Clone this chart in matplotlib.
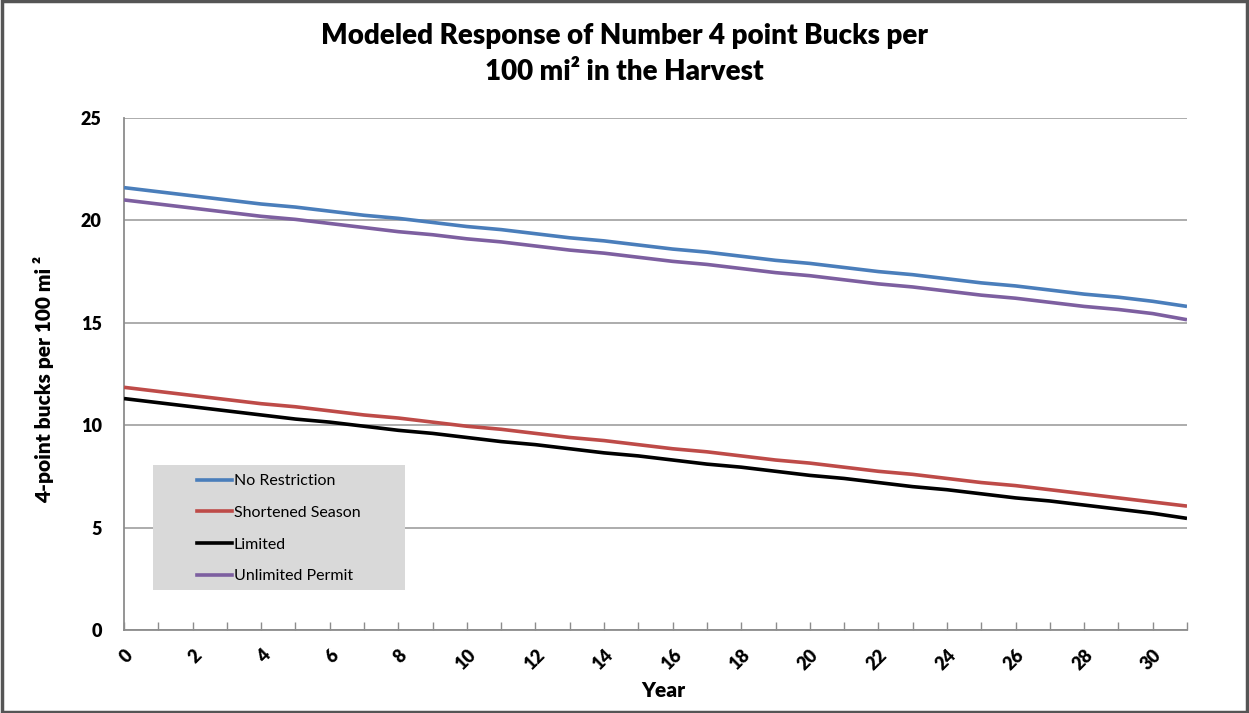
import matplotlib
matplotlib.use("Agg")
import matplotlib.pyplot as plt
from matplotlib.patches import Rectangle
from matplotlib.lines import Line2D

years = list(range(0, 32))
no_restriction = [21.6, 21.4, 21.2, 21.0, 20.8, 20.65, 20.45, 20.25, 20.1, 19.9, 19.7, 19.55,
                  19.35, 19.15, 19.0, 18.8, 18.6, 18.45, 18.25, 18.05, 17.9, 17.7, 17.5, 17.35,
                  17.15, 16.95, 16.8, 16.6, 16.4, 16.25, 16.05, 15.8]
shortened_season = [11.85, 11.65, 11.45, 11.25, 11.05, 10.9, 10.7, 10.5, 10.35, 10.15, 9.95, 9.8,
                    9.6, 9.4, 9.25, 9.05, 8.85, 8.7, 8.5, 8.3, 8.15, 7.95, 7.75, 7.6,
                    7.4, 7.2, 7.05, 6.85, 6.65, 6.45, 6.25, 6.05]
limited = [11.3, 11.1, 10.9, 10.7, 10.5, 10.3, 10.15, 9.95, 9.75, 9.6, 9.4, 9.2,
           9.05, 8.85, 8.65, 8.5, 8.3, 8.1, 7.95, 7.75, 7.55, 7.4, 7.2, 7.0,
           6.85, 6.65, 6.45, 6.3, 6.1, 5.9, 5.7, 5.45]
unlimited_permit = [21.0, 20.8, 20.6, 20.4, 20.2, 20.05, 19.85, 19.65, 19.45, 19.3, 19.1, 18.95,
                    18.75, 18.55, 18.4, 18.2, 18.0, 17.85, 17.65, 17.45, 17.3, 17.1, 16.9, 16.75,
                    16.55, 16.35, 16.2, 16.0, 15.8, 15.65, 15.45, 15.15]

series_names = ["No Restriction", "Shortened Season", "Limited", "Unlimited Permit"]
series_values = [no_restriction, shortened_season, limited, unlimited_permit]
series_colors = ["#4A7EBB", "#BE4B48", "#000000", "#7D5FA0"]
y_ticks = [0, 5, 10, 15, 20, 25]
x_label_ticks = list(range(0, 31, 2))

FONT = "Lato"
plt.rcParams['font.family'] = [FONT, 'DejaVu Sans']

W, H = 1249, 713
fig = plt.figure(figsize=(W / 100, H / 100), dpi=100)
fig.patch.set_facecolor("white")

# outer frame
fig.add_artist(Rectangle((0.0015, 0.002), 0.997, 0.996, transform=fig.transFigure,
                         fill=False, edgecolor="#555555", linewidth=2.5))

ax = fig.add_axes([124 / W, 1 - 630 / H, (1187 - 124) / W, (630 - 118) / H])

for name, vals, col in zip(series_names, series_values, series_colors):
    ax.plot(years, vals, color=col, linewidth=2.6, solid_capstyle="butt", zorder=3)

ax.set_xlim(0, 31)
ax.set_ylim(0, 25)
ax.set_yticks(y_ticks)
ax.set_yticklabels([str(v) for v in y_ticks], fontsize=13, fontweight="heavy")
ax.tick_params(axis="y", length=0, pad=16)
ax.yaxis.grid(True, color="#A6A6A6", linewidth=1.3)
ax.set_axisbelow(True)

ax.set_xticks(years, minor=True)
ax.set_xticks(x_label_ticks)
ax.set_xticklabels([str(v) for v in x_label_ticks], rotation=45, ha="right",
                   rotation_mode="anchor", fontsize=13, fontweight="heavy")
ax.tick_params(axis="x", which="both", direction="in", length=6, width=1,
               color="#8C8C8C", pad=12)

for s in ["top", "right"]:
    ax.spines[s].set_visible(False)
for s in ["left", "bottom"]:
    ax.spines[s].set_color("#8C8C8C")
    ax.spines[s].set_linewidth(1.3)

ax.set_xlabel("Year", fontsize=15, fontweight="heavy")
ax.xaxis.set_label_coords(0.507, -0.100)
ax.set_ylabel("4-point bucks per 100 mi ²", fontsize=15, fontweight="heavy")
ax.yaxis.set_label_coords(-0.066, 0.49)

fig.text(0.5, 1 - 36 / H, "Modeled Response of Number 4 point Bucks per",
         ha="center", va="center", fontsize=20, fontweight="heavy")
fig.text(0.5, 1 - 72 / H, "100 mi² in the Harvest",
         ha="center", va="center", fontsize=20, fontweight="heavy")

# legend box
x0, x1 = (153 - 124) / 1063, (405 - 124) / 1063
y0, y1 = (630 - 590) / 512, (630 - 465) / 512
ax.add_patch(Rectangle((x0, y0), x1 - x0, y1 - y0, transform=ax.transAxes,
                       facecolor="#D9D9D9", edgecolor="none", zorder=4))
handles = [Line2D([], [], color=c, linewidth=2.6) for c in series_colors]
leg = ax.legend(handles, series_names, loc="upper left",
                bbox_to_anchor=((197 - 124) / 1063, (630 - 474) / 512),
                frameon=False, fontsize=11.5, handlelength=2.2, handletextpad=0.1,
                labelspacing=1.1, borderpad=0, borderaxespad=0)
leg.set_zorder(5)

fig.savefig("out.png", dpi=100, facecolor="white")
